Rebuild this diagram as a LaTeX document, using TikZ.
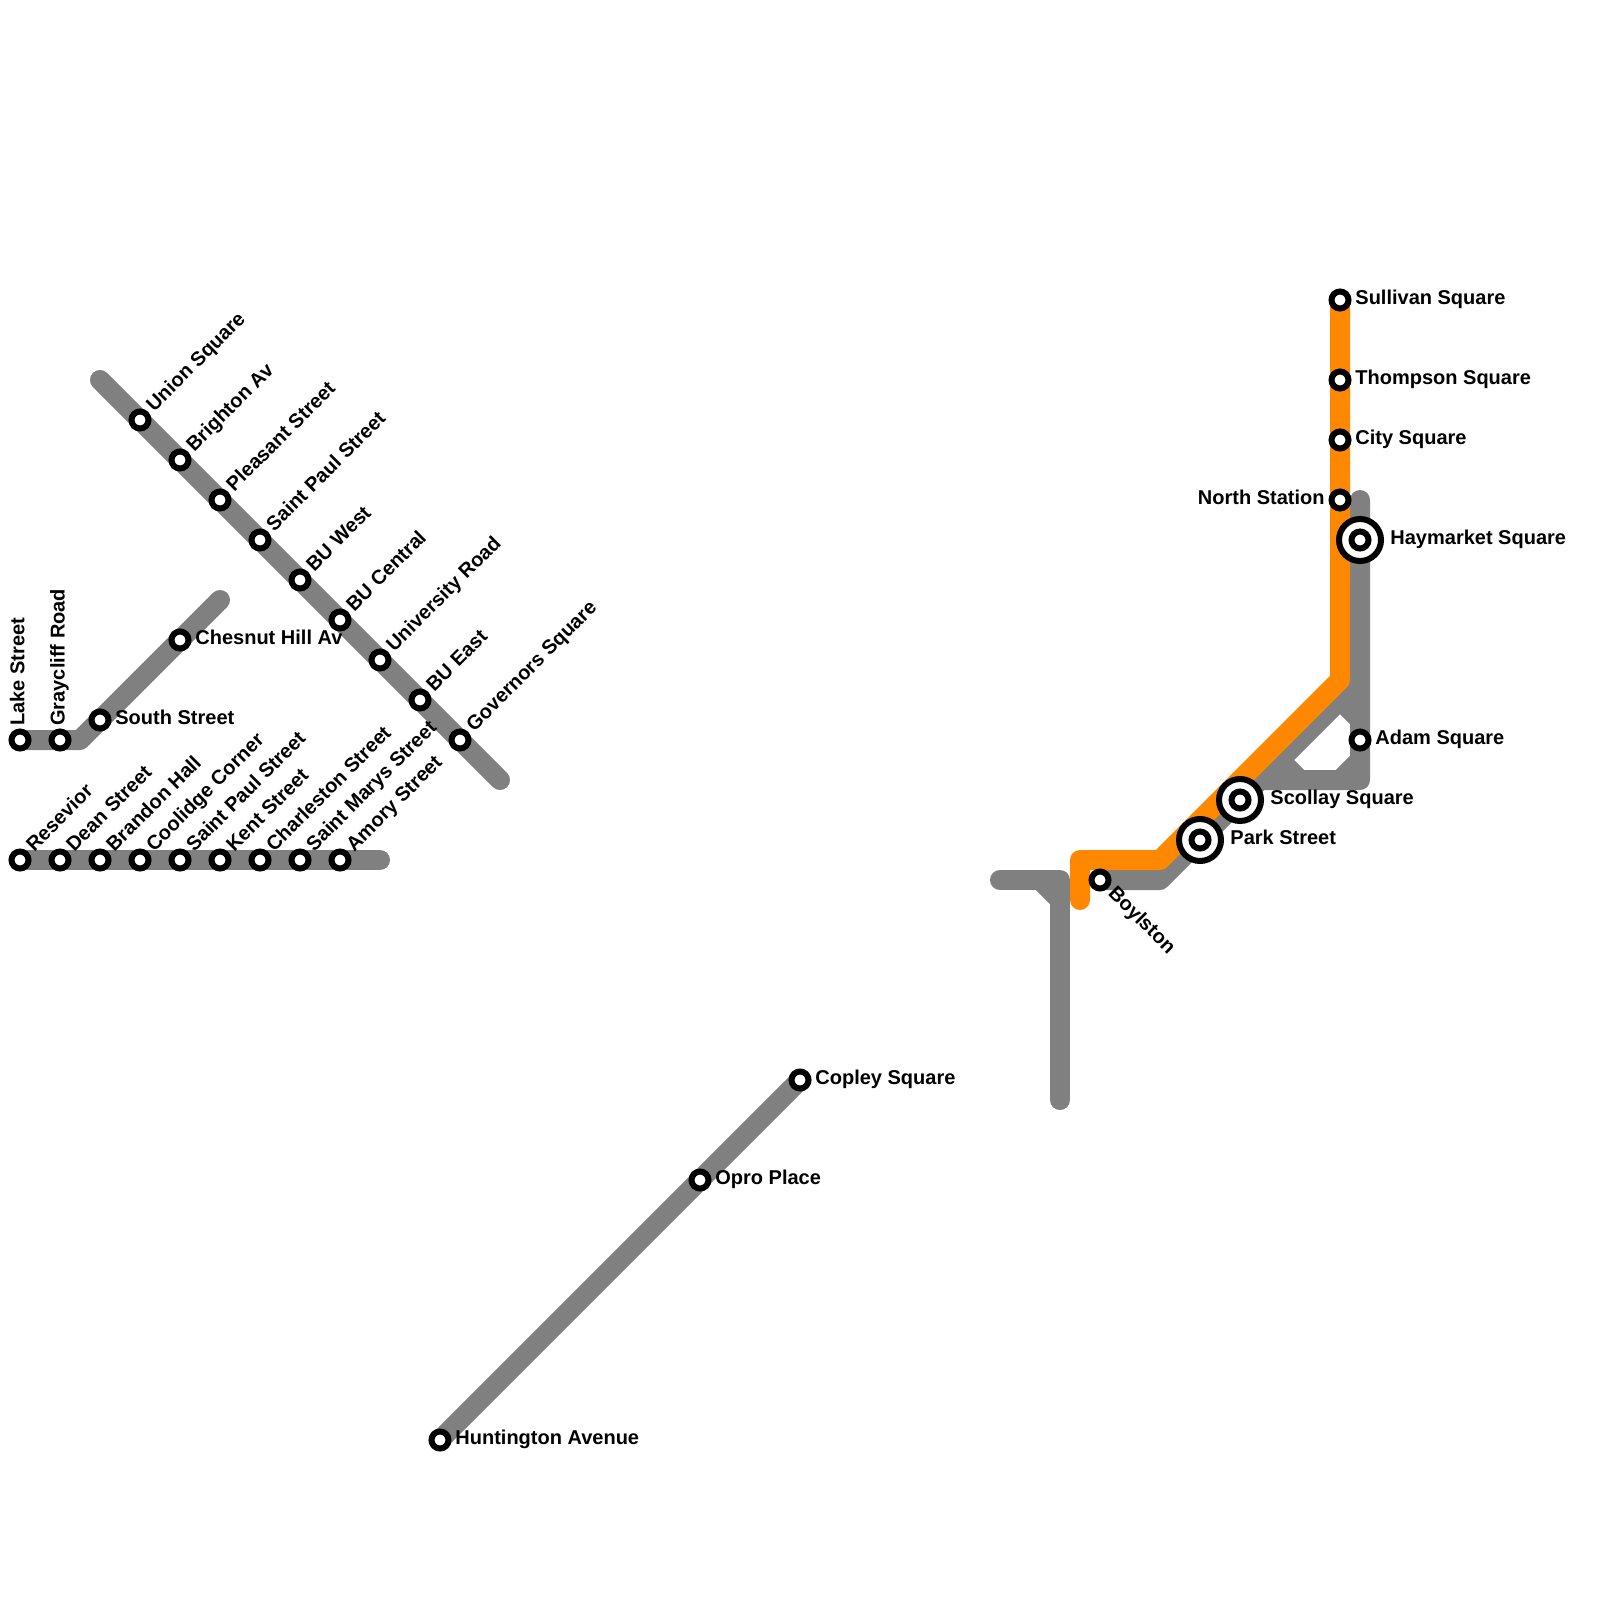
\documentclass[tikz,border=0pt]{standalone}
\usepackage{fontspec}
\setmainfont{Liberation Sans}
\usetikzlibrary{calc, backgrounds}
\definecolor{trackGray}{HTML}{808080}
\definecolor{trackOrange}{HTML}{FF8800}
\tikzset{
    stopDot/.style={circle, draw=black, fill=white, line width=3pt, minimum size=8.5pt, inner sep=0pt},
    hubRing/.style={circle, draw=black, fill=white, line width=3pt, minimum size=21pt, inner sep=0pt},
    stopName/.style={font=\bfseries\fontsize{10}{10}\selectfont, text=black, inner sep=0pt, anchor=base west},
    grayTrack/.style={line width=10pt, line cap=round, line join=round, trackGray},
    orangeTrack/.style={line width=10pt, line cap=round, line join=round, trackOrange}
}
\begin{document}
\begin{tikzpicture}[x=0.5pt,y=-0.5pt]
    \useasboundingbox (0,0) rectangle (1600,1600);
    % stops, grouped by the slant of their names
    \foreach \id/\px/\py/\txt in {
        resevior/20/860/Resevior, dean/60/860/Dean Street, brandon/100/860/Brandon Hall,
        coolidge/140/860/Coolidge Corner, saintPaulA/180/860/Saint Paul Street, kent/220/860/Kent Street,
        charleston/260/860/Charleston Street, saintMarys/300/860/Saint Marys Street, amory/340/860/Amory Street,
        union/140/420/Union Square, brighton/180/460/Brighton Av, pleasant/220/500/Pleasant Street,
        saintPaulB/260/540/Saint Paul Street, buWest/300/580/BU West, buCentral/340/620/BU Central,
        university/380/660/University Road, buEast/420/700/BU East, governors/460/740/Governors Square}{
        \node[stopDot] (\id) at (\px,\py) {};
        \node[stopName, rotate=45] (\id Name) at ([shift={(14,-7.5)}]\id.center) {\txt};
    }
    \foreach \id/\px/\py/\txt in {lake/20/740/Lake Street, graycliff/60/740/Graycliff Road}{
        \node[stopDot] (\id) at (\px,\py) {};
        \node[stopName, rotate=90] (\id Name) at ([shift={(4.5,-14)}]\id.center) {\txt};
    }
    \foreach \id/\px/\py/\txt in {
        south/100/720/South Street, chesnut/180/640/Chesnut Hill Av,
        copley/800/1080/Copley Square, opro/700/1180/Opro Place, huntington/440/1440/Huntington Avenue,
        sullivan/1340/300/Sullivan Square, thompson/1340/380/Thompson Square, city/1340/440/City Square,
        adam/1360/740/Adam Square}{
        \node[stopDot] (\id) at (\px,\py) {};
        \node[stopName] (\id Name) at ([shift={(15,4.8)}]\id.center) {\txt};
    }
    \node[stopDot] (north) at (1340,500) {};
    \node[stopName, anchor=base east] (northName) at ([shift={(-15,4.8)}]north.center) {North Station};
    \node[stopDot] (boylston) at (1100,880) {};
    \node[stopName, rotate=-45] (boylstonName) at ([shift={(7,14)}]boylston.center) {Boylston};
    % interchanges
    \foreach \id/\px/\py/\txt in {haymarket/1360/540/Haymarket Square, scollay/1240/800/Scollay Square, park/1200/840/Park Street}{
        \node[hubRing] (\id) at (\px,\py) {};
        \node[stopDot] (\id Dot) at (\px,\py) {};
        \node[stopName] (\id Name) at ([shift={(30,4.8)}]\id.center) {\txt};
    }
    % free ends and bends of the tracks
    \coordinate (unionEnd) at (100,380);
    \coordinate (governorsEnd) at (500,780);
    \coordinate (amoryEnd) at (380,860);
    \coordinate (southBend) at (80,740);
    \coordinate (chesnutEnd) at (220,600);
    \coordinate (westEnd) at (1000,880);
    \coordinate (westCorner) at (1060,880);
    \coordinate (westBrace) at (1040,880);
    \coordinate (westBraceEnd) at (1060,900);
    \coordinate (southEnd) at (1060,1100);
    \coordinate (haymarketEnd) at (1360,500);
    \coordinate (loopCorner) at (1360,780);
    \coordinate (loopBend) at (1260,780);
    \coordinate (loopApex) at (1360,680);
    \coordinate (loopTop) at (1340,700);
    \coordinate (loopTopEnd) at (1360,720);
    \coordinate (loopLeft) at (1280,760);
    \coordinate (loopLeftEnd) at (1300,780);
    \coordinate (loopRight) at (1360,760);
    \coordinate (loopRightEnd) at (1340,780);
    \coordinate (boylstonBend) at (1160,880);
    \coordinate (orangeBend) at (1340,680);
    \coordinate (orangeKnee) at (1160,860);
    \coordinate (orangeCorner) at (1080,860);
    \coordinate (orangeEnd) at (1080,900);
    \begin{scope}[on background layer]
        \draw[grayTrack] (resevior.center) -- (amoryEnd);
        \draw[grayTrack] (unionEnd) -- (governorsEnd);
        \draw[grayTrack] (lake.center) -- (southBend) -- (chesnutEnd);
        \draw[grayTrack] (huntington.center) -- (copley.center);
        \draw[grayTrack] (westEnd) -- (westCorner) -- (southEnd);
        \draw[grayTrack] (westBrace) -- (westBraceEnd);
        \draw[grayTrack] (haymarketEnd) -- (loopCorner) -- (loopBend) -- (scollay.center);
        \draw[grayTrack] (boylston.center) -- (boylstonBend) -- (loopApex);
        \draw[grayTrack] (loopTop) -- (loopTopEnd);
        \draw[grayTrack] (loopLeft) -- (loopLeftEnd);
        \draw[grayTrack] (loopRight) -- (loopRightEnd);
        \draw[orangeTrack] (sullivan.center) -- (orangeBend) -- (orangeKnee) -- (orangeCorner) -- (orangeEnd);
    \end{scope}
\end{tikzpicture}
\end{document}
